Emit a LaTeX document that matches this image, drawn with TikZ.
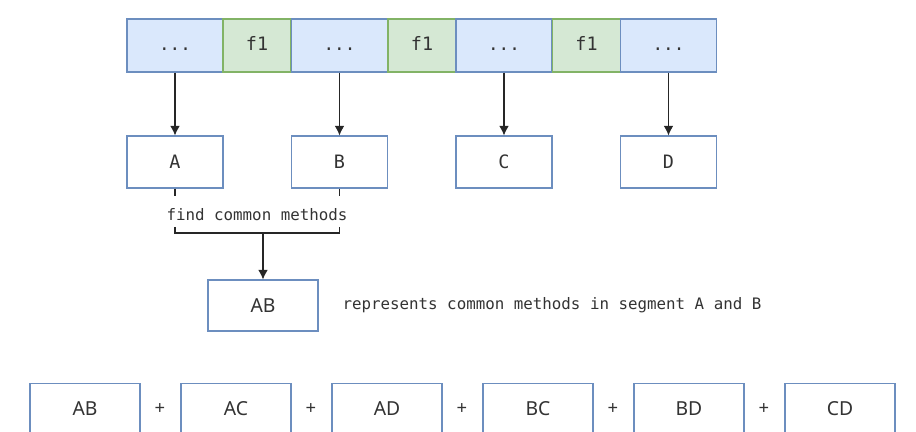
\documentclass[tikz,border=0pt]{standalone}
\usepackage{fontspec}
\setmonofont{DejaVu Sans Mono}
\setsansfont{Noto Sans}
\usetikzlibrary{positioning,arrows.meta}
\definecolor{blauwvul}{HTML}{DAE8FC}
\definecolor{blauwrand}{HTML}{6C8EBF}
\definecolor{groenvul}{HTML}{D5E8D4}
\definecolor{groenrand}{HTML}{82B366}
\definecolor{tekst}{HTML}{333333}

\begin{document}
\begin{tikzpicture}[x=0.02cm, y=-0.02cm, line width=0.6pt,
    every node/.style={text=tekst, inner sep=0pt},
    segblok/.style={draw=blauwrand, fill=blauwvul, minimum width=1.92cm, minimum height=1.06cm, text height=1.6ex, text depth=0.3ex, font=\ttfamily\fontsize{10}{12}\selectfont},
    fblok/.style={draw=groenrand, fill=groenvul, minimum width=1.36cm, minimum height=1.06cm, text height=1.6ex, text depth=0.3ex, font=\ttfamily\fontsize{10.5}{12}\selectfont},
    letterblok/.style={draw=blauwrand, fill=white, minimum width=1.92cm, minimum height=1.04cm, font=\ttfamily\fontsize{10.5}{12}\selectfont},
    paarblok/.style={draw=blauwrand, fill=white, minimum width=2.2cm, minimum height=1.02cm, font=\sffamily\fontsize{11}{13}\selectfont},
    pijl/.style={-{Latex[length=5.5pt,width=5.5pt]}, black!85}]
  \clip (0,0) rectangle (916,432);

  % bovenste balk met segmenten
  \node[segblok] (s1) at (175,45.5) {...};
  \node[fblok]   (f1) at (257,45.5) {f1};
  \node[segblok] (s2) at (339.5,45.5) {...};
  \node[fblok]   (f2) at (422,45.5) {f1};
  \node[segblok] (s3) at (504,45.5) {...};
  \node[fblok]   (f3) at (586.5,45.5) {f1};
  \node[segblok] (s4) at (668.5,45.5) {...};

  % segmenten A t/m D
  \foreach \naam/\i in {A/1,B/2,C/3,D/4}{
    \node[letterblok] (\naam) at (s\i |- 0,162) {\naam};
    \draw[pijl] (s\i.south) -- (\naam.north);
  }

  % gemeenschappelijke methoden
  \node[font=\ttfamily\fontsize{9}{11}\selectfont] (zoek) at (257,215) {find common methods};
  \coordinate (la) at (175,196);
  \coordinate (lb) at (339.5,196);
  \coordinate (ha) at (175,227);
  \coordinate (hb) at (339.5,227);
  \coordinate (mid) at (263,233);
  \draw[black!85] (A.south) -- (la);
  \draw[black!85] (B.south) -- (lb);
  \draw[black!85] (ha) -- (175,233) -- (339.5,233) -- (hb);

  \node[paarblok] (AB) at (263,305.5) {AB};
  \draw[pijl] (mid) -- (AB.north);
  \node[anchor=west, font=\ttfamily\fontsize{9}{11}\selectfont] (uitleg) at (342,305) {represents common methods in segment A and B};

  % alle paren
  \foreach \naam/\x in {AB/85,AC/236,AD/387,BC/538,BD/689,CD/840}{
    \node[paarblok] (p\naam) at (\x,409) {\naam};
  }
  \foreach \x in {160,311,462,613,764}{
    \node[font=\sffamily\fontsize{10.5}{12}\selectfont] (plus\x) at (\x,409) {+};
  }
\end{tikzpicture}
\end{document}
